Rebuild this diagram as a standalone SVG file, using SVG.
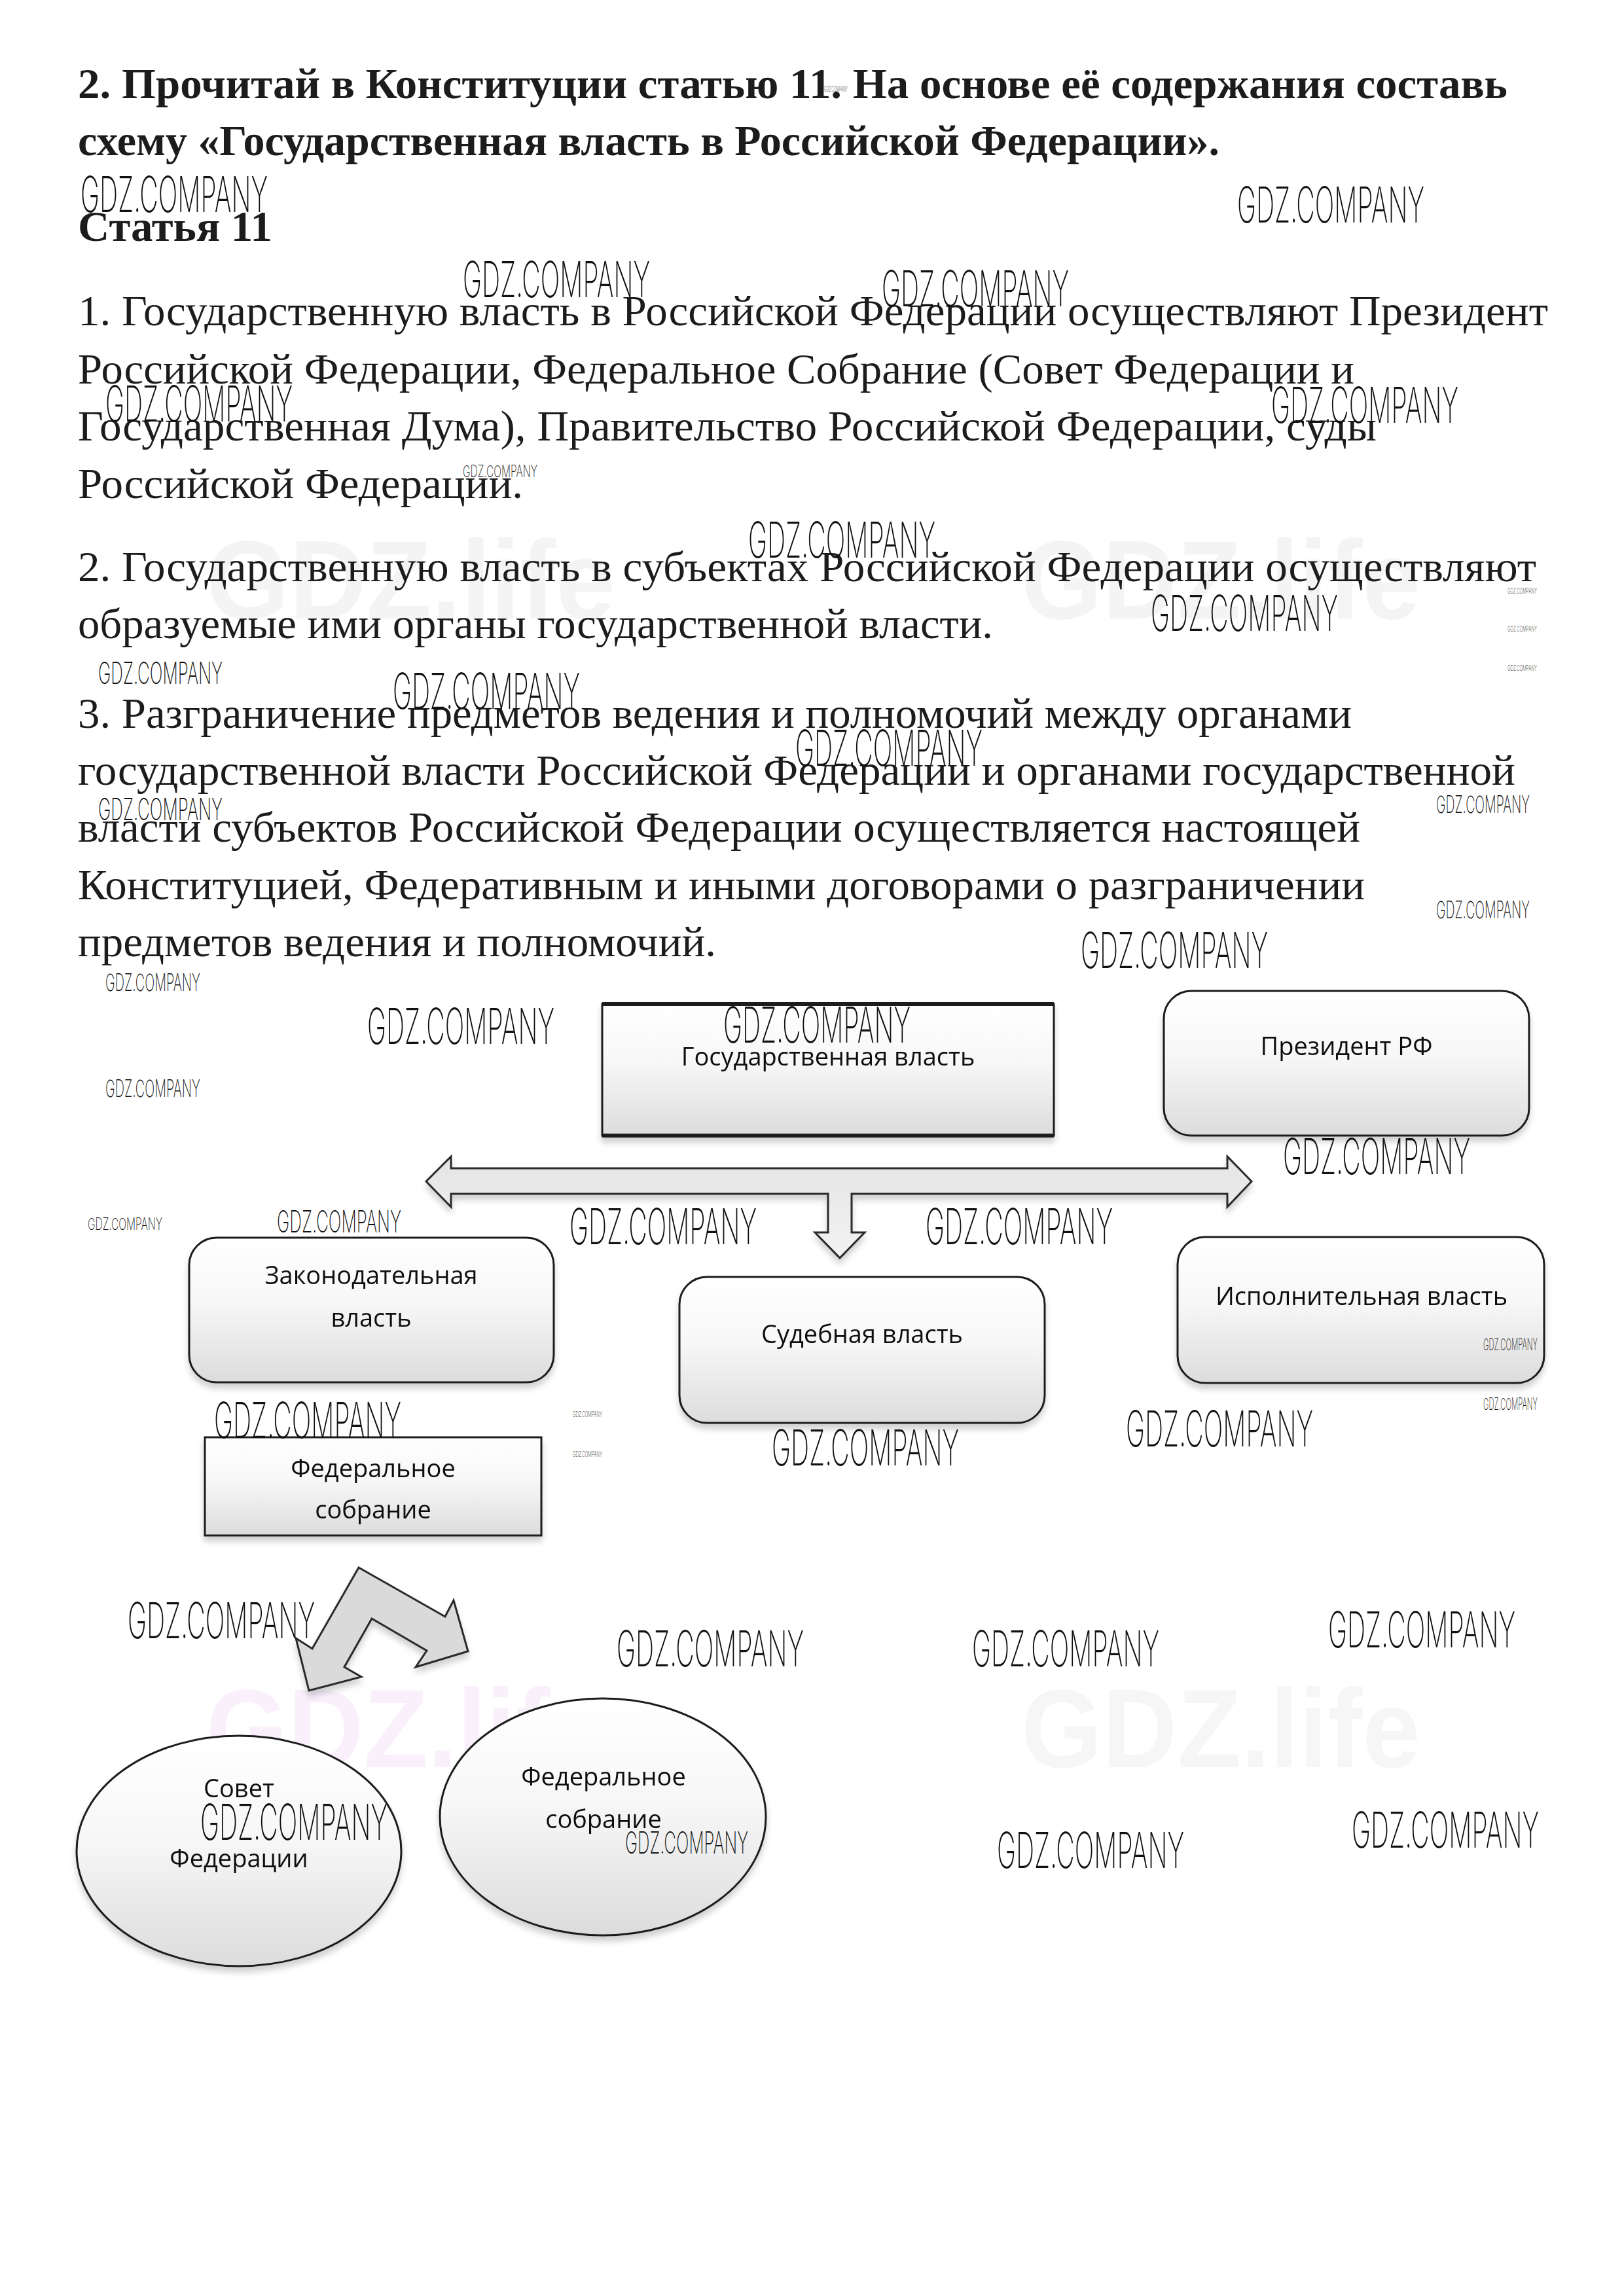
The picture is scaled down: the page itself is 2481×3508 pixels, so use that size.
<svg xmlns="http://www.w3.org/2000/svg" width="2481" height="3508" viewBox="0 0 2481 3508">
<style>
.t{font-family:"Liberation Serif","Times New Roman",serif;fill:#1c1c1c}
.tb{font-family:"Liberation Serif","Times New Roman",serif;font-weight:bold;fill:#1c1c1c}
.n{font-family:"Open Sans","Noto Sans",sans-serif;font-size:38px;fill:#111;text-anchor:middle}
.box{fill:url(#g);stroke:#1e1e1e;stroke-width:3}
.wm{font-family:Inter,"Liberation Sans",sans-serif;font-weight:200;fill:#111}
.big{font-size:76px}
.med{font-size:46px}
.sm{font-size:36px}
.xs{font-size:25px}
.xxs{font-size:12px}
.life{font-family:"Liberation Sans",sans-serif;font-weight:bold;font-size:170px}
</style>
<defs>
<linearGradient id="g" x1="0" y1="0" x2="0" y2="1">
<stop offset="0" stop-color="#ffffff"/>
<stop offset="0.45" stop-color="#f7f7f7"/>
<stop offset="1" stop-color="#dcdcdc"/>
</linearGradient>
<linearGradient id="ga" x1="0" y1="0" x2="0" y2="1">
<stop offset="0" stop-color="#e4e4e4"/>
<stop offset="1" stop-color="#f3f3f3"/>
</linearGradient>
<filter id="sh" x="-10%" y="-10%" width="120%" height="130%">
<feDropShadow dx="0" dy="8" stdDeviation="5" flood-color="#000" flood-opacity="0.18"/>
</filter>
</defs>
<rect width="2481" height="3508" fill="#fff"/>

<g id="faint-watermarks">
<text class="life" x="315" y="945" fill="#000" opacity="0.04" textLength="625" lengthAdjust="spacingAndGlyphs">GDZ.life</text>
<text class="life" x="1560" y="945" fill="#000" opacity="0.04" textLength="610" lengthAdjust="spacingAndGlyphs">GDZ.life</text>
<text class="life" x="315" y="2700" fill="#c050d8" opacity="0.08" textLength="615" lengthAdjust="spacingAndGlyphs">GDZ.life</text>
<text class="life" x="1560" y="2700" fill="#000" opacity="0.03" textLength="610" lengthAdjust="spacingAndGlyphs">GDZ.life</text>
</g>

<g id="task-text">
<text class="tb" font-size="65" x="119" y="150" textLength="2184" lengthAdjust="spacingAndGlyphs">2. Прочитай в Конституции статью 11. На основе её содержания составь</text>
<text class="tb" font-size="65" x="119" y="237" textLength="1744" lengthAdjust="spacingAndGlyphs">схему «Государственная власть в Российской Федерации».</text>
<text class="tb" font-size="65" x="119" y="368" textLength="297" lengthAdjust="spacingAndGlyphs">Статья 11</text>
<text class="t" font-size="66" x="119" y="497" textLength="2246" lengthAdjust="spacingAndGlyphs">1. Государственную власть в Российской Федерации осуществляют Президент</text>
<text class="t" font-size="66" x="119" y="586" textLength="1950" lengthAdjust="spacingAndGlyphs">Российской Федерации, Федеральное Собрание (Совет Федерации и</text>
<text class="t" font-size="66" x="119" y="673" textLength="1984" lengthAdjust="spacingAndGlyphs">Государственная Дума), Правительство Российской Федерации, суды</text>
<text class="t" font-size="66" x="119" y="761" textLength="680" lengthAdjust="spacingAndGlyphs">Российской Федерации.</text>
<text class="t" font-size="66" x="119" y="888" textLength="2228" lengthAdjust="spacingAndGlyphs">2. Государственную власть в субъектах Российской Федерации осуществляют</text>
<text class="t" font-size="66" x="119" y="975" textLength="1398" lengthAdjust="spacingAndGlyphs">образуемые ими органы государственной власти.</text>
<text class="t" font-size="66" x="119" y="1112" textLength="1946" lengthAdjust="spacingAndGlyphs">3. Разграничение предметов ведения и полномочий между органами</text>
<text class="t" font-size="66" x="119" y="1199" textLength="2196" lengthAdjust="spacingAndGlyphs">государственной власти Российской Федерации и органами государственной</text>
<text class="t" font-size="66" x="119" y="1286" textLength="1959" lengthAdjust="spacingAndGlyphs">власти субъектов Российской Федерации осуществляется настоящей</text>
<text class="t" font-size="66" x="119" y="1374" textLength="1966" lengthAdjust="spacingAndGlyphs">Конституцией, Федеративным и иными договорами о разграничении</text>
<text class="t" font-size="66" x="119" y="1461" textLength="975" lengthAdjust="spacingAndGlyphs">предметов ведения и полномочий.</text>
</g>

<g id="connectors" stroke="#2a2a2a" stroke-width="3" stroke-linejoin="miter">
<polygon id="double-arrow" fill="url(#ga)" filter="url(#sh)" points="651,1805 689,1767 689,1785 1875,1785 1875,1767 1912,1805 1875,1844 1875,1824 1301,1824 1301,1883 1321,1883 1283,1922 1245,1883 1265,1883 1265,1824 689,1824 689,1844"/>
<polygon id="bent-arrow" fill="#dadada" filter="url(#sh)" points="548,2395 680,2470 693,2445 715,2523 635,2547 652,2522 568,2473 526,2547 552,2562 472,2583 452,2503 477,2519"/>
</g>

<g id="node-gos-vlast" filter="url(#sh)">
<rect class="box" x="920" y="1534" width="690" height="201"/>
<line x1="920" y1="1534" x2="1610" y2="1534" stroke="#1e1e1e" stroke-width="6"/>
<line x1="920" y1="1735" x2="1610" y2="1735" stroke="#1e1e1e" stroke-width="6"/>
<text class="n" x="1265" y="1628">Государственная власть</text>
</g>

<g id="node-president" filter="url(#sh)">
<rect class="box" x="1778" y="1514" width="558" height="221" rx="42"/>
<text class="n" x="2057" y="1612">Президент РФ</text>
</g>

<g id="node-zakon" filter="url(#sh)">
<rect class="box" x="289" y="1891" width="557" height="221" rx="42"/>
<text class="n" x="567" y="1962">Законодательная</text>
<text class="n" x="567" y="2027">власть</text>
</g>

<g id="node-sud" filter="url(#sh)">
<rect class="box" x="1038" y="1951" width="558" height="223" rx="42"/>
<text class="n" x="1317" y="2052">Судебная власть</text>
</g>

<g id="node-ispoln" filter="url(#sh)">
<rect class="box" x="1799" y="1890" width="560" height="223" rx="42"/>
<text class="n" x="2080" y="1994">Исполнительная власть</text>
</g>

<g id="node-fed-sobr" filter="url(#sh)">
<rect class="box" x="313" y="2196" width="514" height="150"/>
<text class="n" x="570" y="2257">Федеральное</text>
<text class="n" x="570" y="2320">собрание</text>
</g>

<g id="node-sovet" filter="url(#sh)">
<ellipse class="box" cx="365" cy="2828" rx="248" ry="176"/>
<text class="n" x="365" y="2746">Совет</text>
<text class="n" x="365" y="2853">Федерации</text>
</g>

<g id="node-fed-sobr2" filter="url(#sh)">
<ellipse class="box" cx="921" cy="2776" rx="249" ry="181"/>
<text class="n" x="922" y="2728">Федеральное</text>
<text class="n" x="922" y="2793">собрание</text>
</g>

<g id="watermarks">
<text class="wm big" x="123" y="324" textLength="286" lengthAdjust="spacingAndGlyphs">GDZ.COMPANY</text>
<text class="wm big" x="1890" y="340" textLength="286" lengthAdjust="spacingAndGlyphs">GDZ.COMPANY</text>
<text class="wm big" x="707" y="454" textLength="286" lengthAdjust="spacingAndGlyphs">GDZ.COMPANY</text>
<text class="wm big" x="1347" y="468" textLength="286" lengthAdjust="spacingAndGlyphs">GDZ.COMPANY</text>
<text class="wm big" x="161" y="644" textLength="286" lengthAdjust="spacingAndGlyphs">GDZ.COMPANY</text>
<text class="wm big" x="1942" y="646" textLength="286" lengthAdjust="spacingAndGlyphs">GDZ.COMPANY</text>
<text class="wm xs" x="707" y="729" textLength="114" lengthAdjust="spacingAndGlyphs">GDZ.COMPANY</text>
<text class="wm big" x="1143" y="852" textLength="286" lengthAdjust="spacingAndGlyphs">GDZ.COMPANY</text>
<text class="wm big" x="1758" y="964" textLength="286" lengthAdjust="spacingAndGlyphs">GDZ.COMPANY</text>
<text class="wm med" x="150" y="1045" textLength="190" lengthAdjust="spacingAndGlyphs">GDZ.COMPANY</text>
<text class="wm big" x="600" y="1083" textLength="286" lengthAdjust="spacingAndGlyphs">GDZ.COMPANY</text>
<text class="wm big" x="1215" y="1170" textLength="286" lengthAdjust="spacingAndGlyphs">GDZ.COMPANY</text>
<text class="wm med" x="150" y="1253" textLength="190" lengthAdjust="spacingAndGlyphs">GDZ.COMPANY</text>
<text class="wm sm" x="2194" y="1242" textLength="143" lengthAdjust="spacingAndGlyphs">GDZ.COMPANY</text>
<text class="wm sm" x="2194" y="1403" textLength="143" lengthAdjust="spacingAndGlyphs">GDZ.COMPANY</text>
<text class="wm big" x="1651" y="1479" textLength="286" lengthAdjust="spacingAndGlyphs">GDZ.COMPANY</text>
<text class="wm sm" x="161" y="1514" textLength="145" lengthAdjust="spacingAndGlyphs">GDZ.COMPANY</text>
<text class="wm big" x="561" y="1595" textLength="286" lengthAdjust="spacingAndGlyphs">GDZ.COMPANY</text>
<text class="wm big" x="1105" y="1593" textLength="286" lengthAdjust="spacingAndGlyphs">GDZ.COMPANY</text>
<text class="wm sm" x="161" y="1676" textLength="145" lengthAdjust="spacingAndGlyphs">GDZ.COMPANY</text>
<text class="wm big" x="1960" y="1794" textLength="286" lengthAdjust="spacingAndGlyphs">GDZ.COMPANY</text>
<text class="wm xs" x="134" y="1879" textLength="114" lengthAdjust="spacingAndGlyphs">GDZ.COMPANY</text>
<text class="wm med" x="423" y="1883" textLength="190" lengthAdjust="spacingAndGlyphs">GDZ.COMPANY</text>
<text class="wm big" x="870" y="1901" textLength="286" lengthAdjust="spacingAndGlyphs">GDZ.COMPANY</text>
<text class="wm big" x="1414" y="1901" textLength="286" lengthAdjust="spacingAndGlyphs">GDZ.COMPANY</text>
<text class="wm xs" x="2266" y="2063" textLength="83" lengthAdjust="spacingAndGlyphs">GDZ.COMPANY</text>
<text class="wm big" x="327" y="2197" textLength="286" lengthAdjust="spacingAndGlyphs">GDZ.COMPANY</text>
<text class="wm xxs" x="875" y="2165" textLength="45" lengthAdjust="spacingAndGlyphs">GDZ.COMPANY</text>
<text class="wm xxs" x="875" y="2226" textLength="45" lengthAdjust="spacingAndGlyphs">GDZ.COMPANY</text>
<text class="wm big" x="1179" y="2239" textLength="286" lengthAdjust="spacingAndGlyphs">GDZ.COMPANY</text>
<text class="wm big" x="1720" y="2210" textLength="286" lengthAdjust="spacingAndGlyphs">GDZ.COMPANY</text>
<text class="wm xs" x="2266" y="2154" textLength="83" lengthAdjust="spacingAndGlyphs">GDZ.COMPANY</text>
<text class="wm big" x="195" y="2503" textLength="286" lengthAdjust="spacingAndGlyphs">GDZ.COMPANY</text>
<text class="wm big" x="942" y="2546" textLength="286" lengthAdjust="spacingAndGlyphs">GDZ.COMPANY</text>
<text class="wm big" x="1485" y="2546" textLength="286" lengthAdjust="spacingAndGlyphs">GDZ.COMPANY</text>
<text class="wm big" x="2029" y="2517" textLength="286" lengthAdjust="spacingAndGlyphs">GDZ.COMPANY</text>
<text class="wm big" x="306" y="2811" textLength="286" lengthAdjust="spacingAndGlyphs">GDZ.COMPANY</text>
<text class="wm med" x="955" y="2832" textLength="188" lengthAdjust="spacingAndGlyphs">GDZ.COMPANY</text>
<text class="wm big" x="1523" y="2854" textLength="286" lengthAdjust="spacingAndGlyphs">GDZ.COMPANY</text>
<text class="wm big" x="2065" y="2823" textLength="286" lengthAdjust="spacingAndGlyphs">GDZ.COMPANY</text>
<text class="wm xxs" x="1259" y="140" textLength="36" lengthAdjust="spacingAndGlyphs">GDZ.COMPANY</text>
<text class="wm xxs" x="2303" y="907" textLength="45" lengthAdjust="spacingAndGlyphs">GDZ.COMPANY</text>
<text class="wm xxs" x="2303" y="965" textLength="45" lengthAdjust="spacingAndGlyphs">GDZ.COMPANY</text>
<text class="wm xxs" x="2303" y="1025" textLength="45" lengthAdjust="spacingAndGlyphs">GDZ.COMPANY</text>
</g>
</svg>
